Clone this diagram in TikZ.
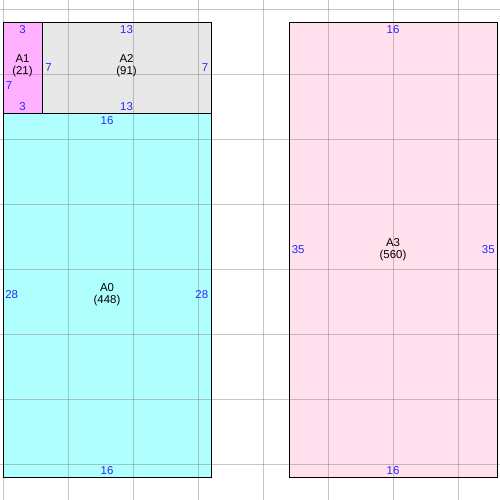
\documentclass[tikz,border=0pt]{standalone}
\usepackage{fontspec}
\setmainfont{Liberation Sans}
\usepackage{tikz}
\usetikzlibrary{positioning}

\definecolor{areamagenta}{RGB}{255,176,255}
\definecolor{areagray}{RGB}{232,232,232}
\definecolor{areacyan}{RGB}{176,255,255}
\definecolor{areapink}{RGB}{255,224,236}
\definecolor{numblue}{RGB}{40,40,255}

\begin{document}
\begin{tikzpicture}[x=0.26cm, y=-0.26cm,
    area/.style={inner sep=0pt, outer sep=0pt},
    rim/.style={draw=black, line width=0.55pt},
    gridline/.style={draw=black!50, line width=0.5pt, opacity=0.45},
    num/.style={text=numblue, font=\fontsize{6.5}{7}\selectfont, inner sep=0pt},
    tag/.style={font=\fontsize{6.5}{7}\selectfont, align=center, inner sep=0pt}]
    %% Background
    \useasboundingbox (-0.2308,-1.6923) rectangle (38.2308,36.7692);
    \fill[white] (-0.2308,-1.6923) rectangle (38.2308,36.7692);

    %% Areas
    \node[area, fill=areamagenta, minimum width=0.78cm, minimum height=1.82cm, anchor=north west] (a1) at (0,0) {};
    \node[area, fill=areagray, minimum width=3.38cm, minimum height=1.82cm, right=0cm of a1] (a2) {};
    \node[area, fill=areacyan, minimum width=4.16cm, minimum height=7.28cm, below right=0cm and 0cm of a1.south west] (a0) {};
    \node[area, fill=areapink, minimum width=4.16cm, minimum height=9.1cm, below right=0cm and 1.56cm of a2.north east] (a3) {};

    %% Grid
    \foreach \x in {0,5,...,35}
        \draw[gridline] (\x,-1.6923) -- (\x,36.7692);
    \foreach \y in {-1,4,...,34}
        \draw[gridline] (-0.2308,\y) -- (38.2308,\y);

    %% Outlines
    \foreach \a in {a1,a2,a0,a3}
        \draw[rim] (\a.north west) rectangle (\a.south east);

    %% Notes
    \node[tag] (a1tag) at ([yshift=0.03cm]a1.center) {A1\\(21)};
    \node[num, yshift=-0.16cm] (a1top) at (a1.north) {3};
    \node[num, yshift=0.13cm] (a1bot) at (a1.south) {3};
    \node[num, anchor=west, xshift=0.05cm, yshift=-0.37cm] (a1left) at (a1.west) {7};

    \node[tag] (a2tag) at ([yshift=0.03cm]a2.center) {A2\\(91)};
    \node[num, yshift=-0.16cm] (a2top) at (a2.north) {13};
    \node[num, yshift=0.13cm] (a2bot) at (a2.south) {13};
    \node[num, anchor=west, xshift=0.06cm] (a2left) at (a2.west) {7};
    \node[num, anchor=east, xshift=-0.05cm] (a2right) at (a2.east) {7};

    \node[tag] (a0tag) at (a0.center) {A0\\(448)};
    \node[num, yshift=-0.16cm] (a0top) at (a0.north) {16};
    \node[num, yshift=0.13cm] (a0bot) at (a0.south) {16};
    \node[num, anchor=west, xshift=0.04cm] (a0left) at (a0.west) {28};
    \node[num, anchor=east, xshift=-0.05cm] (a0right) at (a0.east) {28};

    \node[tag] (a3tag) at (a3.center) {A3\\(560)};
    \node[num, yshift=-0.16cm] (a3top) at (a3.north) {16};
    \node[num, yshift=0.13cm] (a3bot) at (a3.south) {16};
    \node[num, anchor=west, xshift=0.05cm] (a3left) at (a3.west) {35};
    \node[num, anchor=east, xshift=-0.04cm] (a3right) at (a3.east) {35};
\end{tikzpicture}
\end{document}
